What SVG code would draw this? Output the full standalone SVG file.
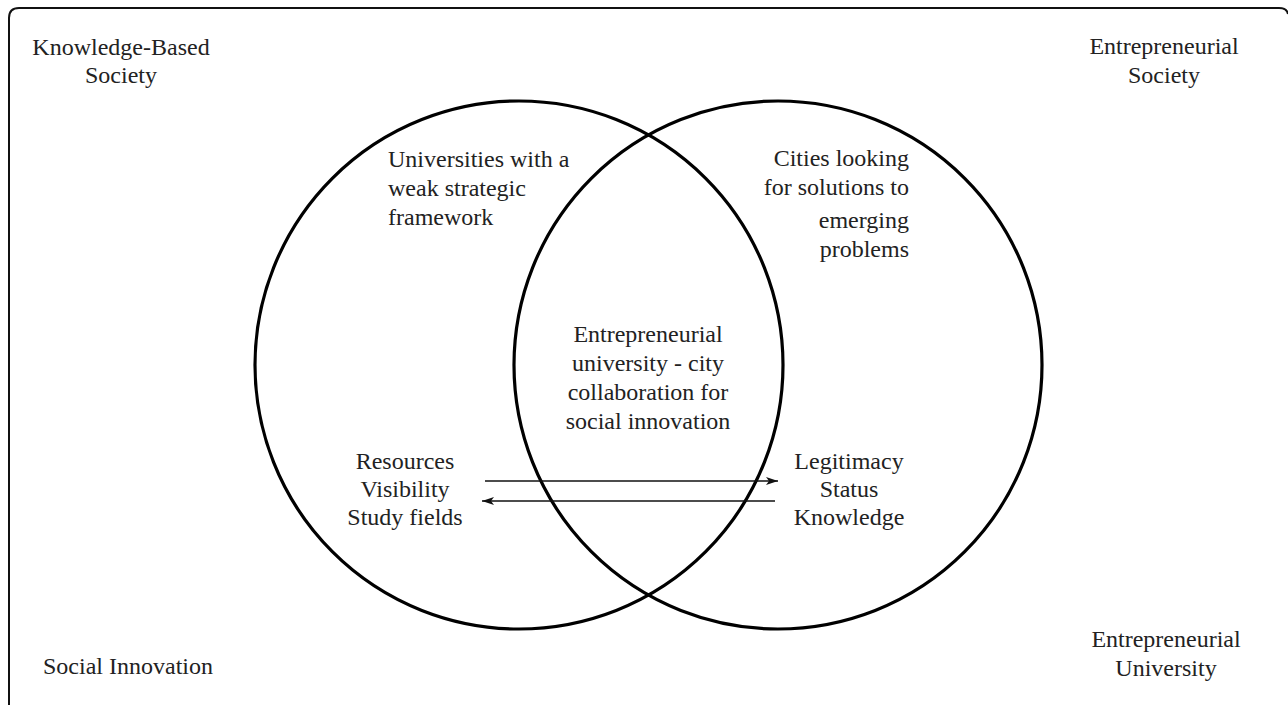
<svg xmlns="http://www.w3.org/2000/svg" width="1288" height="705" viewBox="0 0 1288 705">
<style>
text{font-family:"Liberation Serif","Times New Roman",serif;font-size:24px;fill:#222}
.c{text-anchor:middle}
.r{text-anchor:end}
.circle{fill:none;stroke:#000;stroke-width:3.2}
.frame{fill:none;stroke:#111;stroke-width:2}
.arrow{stroke:#111;stroke-width:1.6;fill:none}
</style>
<defs>
<marker id="ah" viewBox="0 0 12 8" refX="12" refY="4" markerWidth="12" markerHeight="8" markerUnits="userSpaceOnUse" orient="auto">
<path d="M0,0 L12,4 L0,8 L3,4 z" fill="#111"/>
</marker>
</defs>
<rect width="1288" height="705" fill="#fff"/>
<path class="frame" d="M9,706 V18 Q9,8 19,8 H1279 Q1287,8 1288,14"/>
<g id="circle-left"><circle class="circle" cx="519" cy="365" r="264"/></g>
<g id="circle-right"><circle class="circle" cx="778" cy="365" r="264"/></g>
<g id="label-kbs"><text class="c" x="121" y="55">Knowledge-Based</text><text class="c" x="121" y="83">Society</text></g>
<g id="label-es"><text class="c" x="1164" y="54">Entrepreneurial</text><text class="c" x="1164" y="83">Society</text></g>
<g id="label-si"><text x="43" y="674">Social Innovation</text></g>
<g id="label-eu"><text class="c" x="1166" y="647">Entrepreneurial</text><text class="c" x="1166" y="676">University</text></g>
<g id="node-universities"><text x="388" y="167">Universities with a</text><text x="388" y="196">weak strategic</text><text x="388" y="225">framework</text></g>
<g id="node-cities"><text class="r" x="909" y="166">Cities looking</text><text class="r" x="909" y="195">for solutions to</text><text class="r" x="909" y="228">emerging</text><text class="r" x="909" y="257">problems</text></g>
<g id="node-center"><text class="c" x="648" y="342">Entrepreneurial</text><text class="c" x="648" y="371">university - city</text><text class="c" x="648" y="400">collaboration for</text><text class="c" x="648" y="429">social innovation</text></g>
<g id="node-resources"><text class="c" x="405" y="469">Resources</text><text class="c" x="405" y="497">Visibility</text><text class="c" x="405" y="525">Study fields</text></g>
<g id="node-legitimacy"><text class="c" x="849" y="469">Legitimacy</text><text class="c" x="849" y="497">Status</text><text class="c" x="849" y="525">Knowledge</text></g>
<g id="connectors">
<line class="arrow" x1="485" y1="481" x2="778" y2="481" marker-end="url(#ah)"/>
<line class="arrow" x1="775" y1="501" x2="482" y2="501" marker-end="url(#ah)"/>
</g>
</svg>
